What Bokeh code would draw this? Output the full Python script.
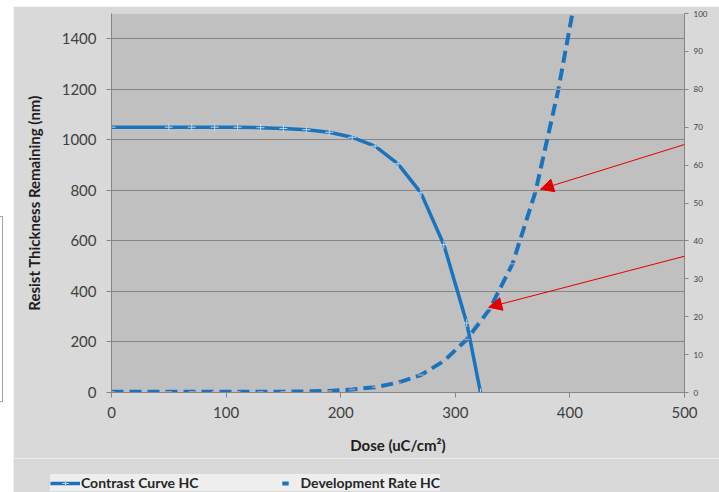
import math
from bokeh.plotting import figure
from bokeh.models import (Range1d, LinearAxis, Arrow, NormalHead, Legend,
                          LegendItem, FixedTicker, Div, Spacer)
from bokeh.layouts import row, column
from bokeh.embed import file_html
from bokeh.resources import INLINE

# ---- data ----
dose_cc = [0, 50, 70, 90, 110, 130, 150, 170, 190, 210, 230, 250, 270, 290, 310, 322]
thick_cc = [1050, 1050, 1050, 1050, 1050, 1048, 1045, 1040, 1030, 1010, 975, 905, 790, 585, 275, 0]

dose_dr = [0, 50, 70, 90, 110, 130, 150, 170, 190, 210, 230, 250, 270, 290, 310, 330, 350, 370, 390, 410]
rate_dr = [0.2, 0.2, 0.2, 0.2, 0.2, 0.2, 0.2, 0.3, 0.4, 0.8, 1.4, 2.6, 4.6, 8.3, 14, 22, 34, 53, 80, 113]

x_ticks = [0, 100, 200, 300, 400, 500]
y_ticks = [0, 200, 400, 600, 800, 1000, 1200, 1400]
r_ticks = [0, 10, 20, 30, 40, 50, 60, 70, 80, 90, 100]

BLUE = "#1a74bd"
AX = "#868686"
FONT = "Lato"
BG = "#d9d9d9"

p = figure(width=706, height=452, x_range=Range1d(0, 500), y_range=Range1d(0, 1500),
           output_backend="svg", toolbar_location=None,
           min_border_left=98, min_border_right=35, min_border_top=7, min_border_bottom=66)
p.background_fill_color = "#c0c0c0"
p.border_fill_color = BG
p.outline_line_color = None
p.extra_y_ranges = {"rate": Range1d(0, 100)}

p.xgrid.visible = False
p.ygrid.ticker = FixedTicker(ticks=y_ticks)
p.ygrid.grid_line_color = AX
p.ygrid.grid_line_width = 1

p.xaxis.ticker = FixedTicker(ticks=x_ticks)
p.yaxis.ticker = FixedTicker(ticks=y_ticks)
for ax in (p.xaxis[0], p.yaxis[0]):
    ax.axis_line_color = AX
    ax.major_tick_line_color = AX
    ax.major_tick_out = 5
    ax.major_tick_in = 0
    ax.minor_tick_line_color = None
    ax.major_label_text_font = FONT
    ax.major_label_text_font_size = "15px"
    ax.major_label_text_color = "#404040"
    ax.axis_label_text_font = FONT
    ax.axis_label_text_font_size = "15px"
    ax.axis_label_text_font_style = "bold"
    ax.axis_label_text_color = "#1e1e1e"
p.xaxis.major_label_standoff = 9
p.yaxis.major_label_standoff = 10
p.xaxis.axis_label = "Dose (uC/cm\u00b2)"
p.xaxis.axis_label_standoff = 15
p.yaxis.axis_label = "Resist Thickness Remaining (nm)"
p.yaxis.axis_label_standoff = 16

rax = LinearAxis(y_range_name="rate", ticker=FixedTicker(ticks=r_ticks))
rax.axis_line_color = AX
rax.major_tick_line_color = AX
rax.major_tick_out = 4
rax.major_tick_in = 0
rax.minor_tick_line_color = None
rax.major_label_text_font = FONT
rax.major_label_text_font_size = "8px"
rax.major_label_text_color = "#404040"
rax.major_label_standoff = 5
p.add_layout(rax, "right")

# series
p.line(dose_cc, thick_cc, line_color=BLUE, line_width=3.5)
p.scatter(dose_cc, thick_cc, marker="cross", size=8, line_color="#bcd6ee", line_width=1)
p.line(dose_dr, rate_dr, y_range_name="rate", line_color=BLUE, line_width=4, line_dash="12 6")
p.scatter(dose_dr, rate_dr, y_range_name="rate", marker="dash", size=6,
          line_color="#e8a6a6", line_alpha=0.7, line_width=1.5)

# red arrows (annotations, left-axis units = rate*15)
RED = "#e00000"
for xs, ys, xe, ye in [(540, 69.2 * 15, 374.3, 53.6 * 15), (540, 39.1 * 15, 329.2, 22.5 * 15)]:
    p.add_layout(Arrow(x_start=xs, y_start=ys, x_end=xe, y_end=ye, line_color=RED, line_width=1,
                       end=NormalHead(size=13, fill_color=RED, line_color=RED)))

# legend strip (own small figure below the chart)
lg = figure(width=706, height=34, x_range=Range1d(0, 1), y_range=Range1d(0, 1),
            output_backend="svg", toolbar_location=None, x_axis_type=None, y_axis_type=None,
            min_border=0)
lg.background_fill_color = BG
lg.border_fill_color = BG
lg.outline_line_color = None
lg.xgrid.visible = False
lg.ygrid.visible = False
r1 = lg.line(x=[-5, -4], y=[-5, -5], line_color=BLUE, line_width=3.5)
r2 = lg.scatter(x=[-5], y=[-5], marker="cross", size=8, line_color="#bcd6ee", line_width=1)
r3 = lg.scatter(x=[-5], y=[-5], marker="dash", size=14, line_color=BLUE, line_width=4)

legend = Legend(items=[LegendItem(label="Contrast Curve HC", renderers=[r1, r2]),
                       LegendItem(label="Development Rate HC", renderers=[r3])],
                orientation="horizontal", location=(37, 1))
legend.label_text_font = FONT
legend.label_text_font_size = "14px"
legend.label_text_font_style = "bold"
legend.label_text_color = "#262626"
legend.glyph_width = 30
legend.glyph_height = 16
legend.label_standoff = 1
legend.spacing = 71
legend.padding = 8
legend.margin = 0
legend.background_fill_color = "#eeeeee"
legend.background_fill_alpha = 1
legend.border_line_color = None
lg.add_layout(legend)

side = Div(width=13, height=458, margin=(0, 0, 0, 0),
           text='<div style="margin-top:216px;width:3px;height:186px;'
                'border:1px solid #a6a6a6;border-left:none;"></div>')
top = Spacer(width=706, height=6, margin=(0, 0, 0, 0))
upper = row(side, column(top, p, spacing=0), spacing=0)
lower = row(Spacer(width=13, height=34, margin=(0, 0, 0, 0)), lg, spacing=0)
layout = column(upper, lower, spacing=0)

open("out.html", "w").write(file_html(layout, INLINE))
